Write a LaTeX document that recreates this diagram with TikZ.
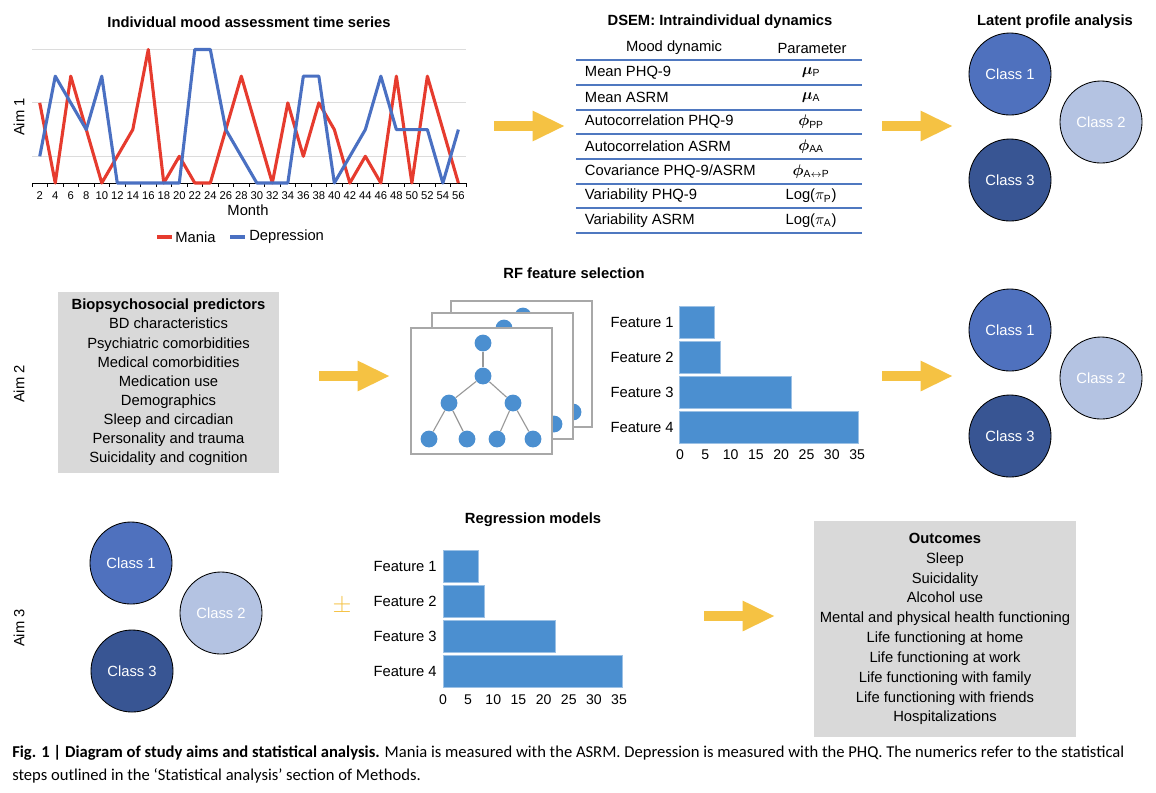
\documentclass[tikz,border=0pt]{standalone}
\usepackage{fontspec}
\usepackage{amsmath, amssymb}
\usepackage{bm}
\setmainfont{Liberation Sans}
\newfontfamily\capfont{Carlito}
\usetikzlibrary{arrows.meta, positioning}

\definecolor{maniared}{HTML}{E63B2E}
\definecolor{deprblue}{HTML}{4A70C2}
\definecolor{gridgray}{HTML}{DCDCDC}
\definecolor{arrowgold}{HTML}{F5C243}
\definecolor{classone}{HTML}{4F71BE}
\definecolor{classtwo}{HTML}{B4C3E2}
\definecolor{classthree}{HTML}{385593}
\definecolor{barblue}{HTML}{4B8FD0}
\definecolor{boxgray}{HTML}{D9D9D9}
\definecolor{panelgray}{HTML}{A8A8A8}
\definecolor{rowblue}{HTML}{4F78C0}

\begin{document}
\begin{tikzpicture}[
    x=0.025cm, y=-0.025cm,
    every node/.style={font=\fontsize{10.5}{14}\selectfont},
    heading/.style={font=\fontsize{10.5}{14}\selectfont\bfseries},
    aim/.style={rotate=90},
    fatarrow/.style={draw=arrowgold, line width=7pt, -{Triangle[length=23pt, width=20pt]}},
    lpaclass/.style={circle, draw=black, line width=0.6pt, minimum size=2.05cm, inner sep=0pt, text=white},
    graybox/.style={fill=boxgray, align=center, inner sep=0pt},
    bar/.style={fill=barblue, draw=barblue!55!white, line width=0.6pt},
    ticklab/.style={font=\fontsize{10}{12}\selectfont, inner sep=0pt},
    treenode/.style={circle, fill=barblue, minimum size=0.42cm, inner sep=0pt},
    treeedge/.style={draw=gray!80, line width=0.8pt},
    panel/.style={draw=panelgray, line width=1.1pt, fill=white},
    series/.style={line width=2.2pt, line join=round},
    rowline/.style={draw=rowblue, line width=1pt}
  ]

  \useasboundingbox (0,0) rectangle (1156,792);
  \fill[white] (0,0) rectangle (1156,792);

  % ── Aim 1: time series ──────────────────────────────────────────────────
  % months on x (2..56), scores 0..5 on y; baseline at y=183px
  \node[heading] (tstitle) at (249,22) {Individual mood assessment time series};
  \node[aim] (aim1) at (19,117) {Aim 1};
  \begin{scope}[shift={(24.25,183)}, x=0.19375cm, y=0.6675cm]
    \foreach \v in {1,3,5}
      \draw[gridgray, line width=0.6pt] (1,\v) -- (57,\v);
    \draw[line width=0.7pt] (1,0) -- (57,0);
    \foreach \m in {1,3,...,57}
      \draw[line width=0.7pt] (\m,0) -- (\m,-0.15);
    \foreach \m in {2,4,...,56}
      \node[font=\fontsize{8}{9}\selectfont, anchor=north, inner sep=0pt] (mt\m) at (\m,-0.3) {\m};
    \draw[series, maniared] plot coordinates {(2,3) (4,0) (6,4) (8,2) (10,0) (12,1) (14,2)
      (16,5) (18,0) (20,1) (22,0) (24,0) (26,2) (28,4) (30,2) (32,0) (34,3) (36,1) (38,3)
      (40,2) (42,0) (44,1) (46,0) (48,4) (50,0) (52,4) (54,2) (56,0)};
    \draw[series, deprblue] plot coordinates {(2,1) (4,4) (6,3) (8,2) (10,4) (12,0) (14,0)
      (16,0) (18,0) (20,0) (22,5) (24,5) (26,2) (28,1) (30,0) (32,0) (34,0) (36,4) (38,4)
      (40,0) (42,1) (44,2) (46,4) (48,2) (50,2) (52,2) (54,0) (56,2)};
  \end{scope}
  \node (monthlabel) at (248,210) {Month};
  \draw[maniared, line width=3pt] (157,237) -- (172,237);
  \node[anchor=west, inner sep=0pt] (maniakey) at (175,237) {Mania};
  \draw[deprblue, line width=3pt] (230,237) -- (245,237);
  \node[anchor=west, inner sep=0pt] (deprkey) at (249,237) {Depression};

  % ── Aim 1: DSEM table ───────────────────────────────────────────────────
  \node[heading] (dsemtitle) at (720,22) {DSEM: Intraindividual dynamics};
  \node (hdmood) at (674,48) {Mood dynamic};
  \node (hdpar) at (812,48) {Parameter};
  \foreach \yy in {60,85,110,134,159,184,208,233}
    \draw[rowline] (576,\yy) -- (862,\yy);
  \node[anchor=west] (dyn1) at (580,72.5) {Mean PHQ-9};
  \node (par1) at (811,72.5) {$\bm{\mu}_{\mathrm{P}}$};
  \node[anchor=west] (dyn2) at (580,97.5) {Mean ASRM};
  \node (par2) at (811,97.5) {$\bm{\mu}_{\mathrm{A}}$};
  \node[anchor=west] (dyn3) at (580,122) {Autocorrelation PHQ-9};
  \node (par3) at (811,122) {$\bm{\phi}_{\mathrm{PP}}$};
  \node[anchor=west] (dyn4) at (580,146.5) {Autocorrelation ASRM};
  \node (par4) at (811,146.5) {$\bm{\phi}_{\mathrm{AA}}$};
  \node[anchor=west] (dyn5) at (580,171.5) {Covariance PHQ-9/ASRM};
  \node (par5) at (811,171.5) {$\bm{\phi}_{\mathrm{A}\leftrightarrow\mathrm{P}}$};
  \node[anchor=west] (dyn6) at (580,196) {Variability PHQ-9};
  \node (par6) at (811,196) {Log($\pi_{\mathrm{P}}$)};
  \node[anchor=west] (dyn7) at (580,220.5) {Variability ASRM};
  \node (par7) at (811,220.5) {Log($\pi_{\mathrm{A}}$)};

  % ── Aim 1: latent profiles ──────────────────────────────────────────────
  \node[heading] (lpatitle) at (1055,22) {Latent profile analysis};
  \node[lpaclass, fill=classone] (cla1) at (1010,74) {Class 1};
  \node[lpaclass, fill=classtwo] (cla2) at (1101,122) {Class 2};
  \node[lpaclass, fill=classthree] (cla3) at (1010,180) {Class 3};

  \coordinate (ar1s) at (494,126); \coordinate (ar1e) at (565,126);
  \coordinate (ar2s) at (882,126); \coordinate (ar2e) at (953,126);
  \draw[fatarrow] (ar1s) -- (ar1e);
  \draw[fatarrow] (ar2s) -- (ar2e);

  % ── Aim 2: predictors, RF, profiles ─────────────────────────────────────
  \node[aim] (aim2) at (19,384) {Aim 2};
  \node[graybox, minimum width=5.525cm, minimum height=4.525cm,
        font=\fontsize{10.5}{13.6}\selectfont] (predictors) at (168.5,382.5)
    {\textbf{Biopsychosocial predictors}\\BD characteristics\\Psychiatric comorbidities\\
     Medical comorbidities\\Medication use\\Demographics\\Sleep and circadian\\
     Personality and trauma\\Suicidality and cognition};

  \node[heading] (rftitle) at (574,273) {RF feature selection};
  % three stacked trees, back to front
  \foreach \dx/\dy/\p in {40/-27/c, 21/-15/b, 0/0/a} {
    \begin{scope}[shift={(\dx,\dy)}]
      \draw[panel] (411,328) rectangle (552,454);
      \node[treenode] (\p root) at (483,343) {};
      \node[treenode] (\p mid) at (483,376) {};
      \node[treenode] (\p left) at (449,403) {};
      \node[treenode] (\p right) at (513,403) {};
      \node[treenode] (\p l1) at (429,439) {};
      \node[treenode] (\p l2) at (467,439) {};
      \node[treenode] (\p l3) at (497,439) {};
      \node[treenode] (\p l4) at (533,439) {};
      \draw[treeedge] (\p root) -- (\p mid);
      \draw[treeedge] (\p mid) -- (\p left);
      \draw[treeedge] (\p mid) -- (\p right);
      \draw[treeedge] (\p left) -- (\p l1);
      \draw[treeedge] (\p left) -- (\p l2);
      \draw[treeedge] (\p right) -- (\p l3);
      \draw[treeedge] (\p right) -- (\p l4);
    \end{scope}
  }

  % importance bars (0 at x=679px)
  \foreach \v/\lab [count=\i] in {7/Feature 1, 8/Feature 2, 22/Feature 3, 35/Feature 4} {
    \pgfmathsetmacro\bartop{306+35.3*(\i-1)}
    \draw[bar] (679,\bartop) rectangle ({679+5.12*\v},{\bartop+32});
    \node[anchor=east, inner sep=0pt] (rff\i) at (674,{\bartop+16}) {\lab};
  }
  \foreach \t in {0,5,...,35}
    \node[ticklab] (rft\t) at ({680+5.06*\t},455) {\t};

  \node[lpaclass, fill=classone] (clb1) at (1010,330) {Class 1};
  \node[lpaclass, fill=classtwo] (clb2) at (1101,378) {Class 2};
  \node[lpaclass, fill=classthree] (clb3) at (1010,436) {Class 3};

  \coordinate (ar3s) at (319,376); \coordinate (ar3e) at (390,376);
  \coordinate (ar4s) at (882,376); \coordinate (ar4e) at (953,376);
  \draw[fatarrow] (ar3s) -- (ar3e);
  \draw[fatarrow] (ar4s) -- (ar4e);

  % ── Aim 3: profiles, regression, outcomes ───────────────────────────────
  \node[aim] (aim3) at (19,628) {Aim 3};
  \node[lpaclass, fill=classone] (clc1) at (131,563) {Class 1};
  \node[lpaclass, fill=classtwo] (clc2) at (221,613) {Class 2};
  \node[lpaclass, fill=classthree] (clc3) at (132,671) {Class 3};
  \node[text=arrowgold, font=\fontsize{18}{18}\selectfont] (plusminus) at (342,606) {$\pm$};

  \node[heading] (regtitle) at (533,520) {Regression models};
  \foreach \v/\lab [count=\i] in {7/Feature 1, 8/Feature 2, 22/Feature 3, 35/Feature 4} {
    \pgfmathsetmacro\bartop{550+35*(\i-1)}
    \draw[bar] (443,\bartop) rectangle ({443+5.13*\v},{\bartop+32});
    \node[anchor=east, inner sep=0pt] (rgf\i) at (437,{\bartop+16.5}) {\lab};
  }
  \foreach \t in {0,5,...,35}
    \node[ticklab] (rgt\t) at ({443+5.03*\t},700) {\t};

  \coordinate (ar5s) at (704,616); \coordinate (ar5e) at (775,616);
  \draw[fatarrow] (ar5s) -- (ar5e);

  \node[graybox, minimum width=6.55cm, minimum height=5.4cm,
        font=\fontsize{10.5}{14.1}\selectfont] (outcomes) at (945,629)
    {\textbf{Outcomes}\\Sleep\\Suicidality\\Alcohol use\\Mental and physical health functioning\\
     Life functioning at home\\Life functioning at work\\Life functioning with family\\
     Life functioning with friends\\Hospitalizations};

  % ── caption ─────────────────────────────────────────────────────────────
  \node[anchor=base west, inner sep=0pt, font=\capfont\fontsize{11.8}{14}\selectfont] (cap1) at (12,757)
    {\textbf{Fig. 1 | Diagram of study aims and statistical analysis.} Mania is measured with the ASRM. Depression is measured with the PHQ. The numerics refer to the statistical};
  \node[anchor=base west, inner sep=0pt, font=\capfont\fontsize{11.8}{14}\selectfont] (cap2) at (12,780)
    {steps outlined in the ‘Statistical analysis’ section of Methods.};

\end{tikzpicture}
\end{document}
